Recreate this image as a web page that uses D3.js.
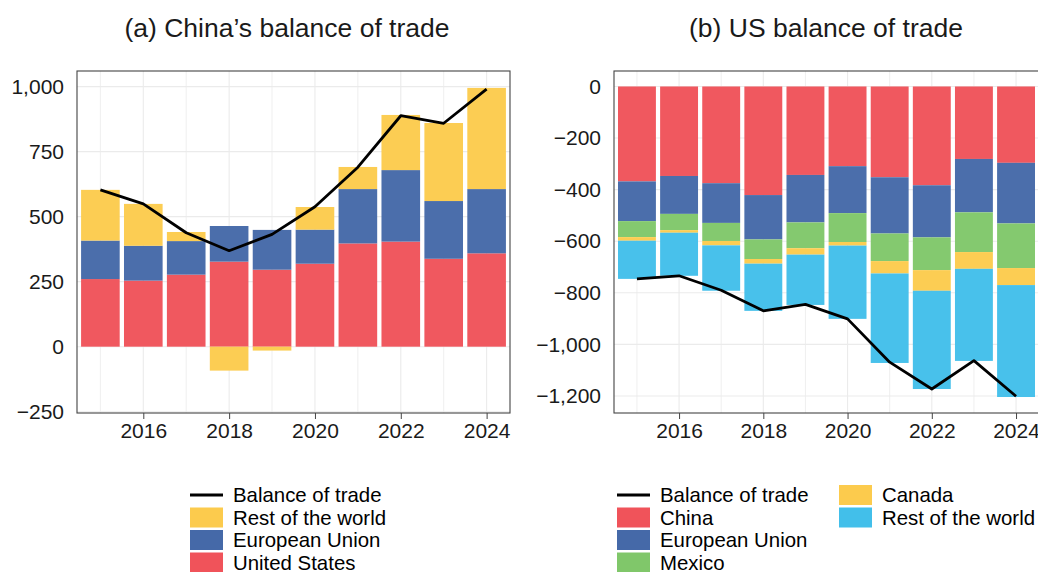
<!DOCTYPE html>
<html lang="en-US">
<head>
    <title>Balance of trade</title>
    <meta charset="utf-8">
    <script src="https://cdn.jsdelivr.net/npm/d3@7"></script>
    <style>
        body { margin: 0; background: #fff; }
        svg { display: block; font-family: 'Liberation Sans', Arial, sans-serif; }
    </style>
</head>
<body>
    <svg></svg>
</body>
<script>

    const years = [2015, 2016, 2017, 2018, 2019, 2020, 2021, 2022, 2023, 2024];

    // (a) China, billions
    const china_us      = [260, 254, 277, 327, 296, 319, 397, 404, 338, 359];
    const china_eu      = [148, 134, 129, 137, 153, 131, 209, 275, 222, 247];
    const china_row     = [195, 161, 35, -92, -15, 87, 85, 212, 300, 389];
    const china_balance = [603, 549, 438, 369, 432, 538, 690, 888, 859, 990];

    // (b) US, billions
    const us_china   = [-368, -347, -375, -421, -343, -309, -352, -383, -281, -296];
    const us_eu      = [-154, -147, -154, -172, -184, -182, -218, -202, -207, -235];
    const us_mexico  = [-62, -63, -70, -76, -100, -112, -107, -127, -154, -173];
    const us_canada  = [-14, -10, -17, -18, -25, -14, -48, -80, -65, -66];
    const us_row     = [-148, -167, -176, -183, -195, -284, -347, -381, -357, -434];
    const us_balance = [-746, -734, -790, -870, -845, -901, -1069, -1173, -1063, -1201];

    const x_ticks = [2016, 2018, 2020, 2022, 2024];
    const china_y_ticks = [-250, 0, 250, 500, 750, 1000];
    const us_y_ticks = [-1200, -1000, -800, -600, -400, -200, 0];

    const colors = {
        red: '#f0535a',
        blue: '#4569a8',
        green: '#80c76a',
        yellow: '#fccb4d',
        cyan: '#42bfea'
    };

    let svg = d3.select('svg')
        .attr('width', 1038)
        .attr('height', 572);

    const fmt = d3.format(',');

    drawPanel({
        title: '(a) China\u2019s balance of trade',
        title_x: 287,
        left: 77, right: 510, top: 71, bottom: 413,
        y_domain: [-255, 1060],
        y_ticks: china_y_ticks,
        series: [
            { key: 'United States', values: china_us, color: colors.red },
            { key: 'European Union', values: china_eu, color: colors.blue },
            { key: 'Rest of the world', values: china_row, color: colors.yellow }
        ],
        balance: china_balance
    });

    drawPanel({
        title: '(b) US balance of trade',
        title_x: 826,
        left: 614, right: 1039, top: 71, bottom: 413,
        y_domain: [-1266, 60],
        y_ticks: us_y_ticks,
        series: [
            { key: 'China', values: us_china, color: colors.red },
            { key: 'European Union', values: us_eu, color: colors.blue },
            { key: 'Mexico', values: us_mexico, color: colors.green },
            { key: 'Canada', values: us_canada, color: colors.yellow },
            { key: 'Rest of the world', values: us_row, color: colors.cyan }
        ],
        balance: us_balance
    });

    // Legends (ggplot order: line first, then fills reversed for panel a)
    drawLegend(190, 495, [
        { label: 'Balance of trade', line: true },
        { label: 'Rest of the world', color: colors.yellow },
        { label: 'European Union', color: colors.blue },
        { label: 'United States', color: colors.red }
    ]);

    drawLegend(617, 495, [
        { label: 'Balance of trade', line: true },
        { label: 'China', color: colors.red },
        { label: 'European Union', color: colors.blue },
        { label: 'Mexico', color: colors.green }
    ]);

    drawLegend(839, 495, [
        { label: 'Canada', color: colors.yellow },
        { label: 'Rest of the world', color: colors.cyan }
    ]);

    function drawPanel(p) {

        let xScale = d3.scaleLinear()
            .domain([2014.455, 2024.545])
            .range([p.left, p.right]);

        let yScale = d3.scaleLinear()
            .domain(p.y_domain)
            .range([p.bottom, p.top]);

        let g = svg.append('g');

        // Grid
        g.append('g')
            .selectAll('line')
            .data(p.y_ticks)
            .enter()
            .append('line')
            .attr('x1', p.left)
            .attr('x2', p.right)
            .attr('y1', d => yScale(d))
            .attr('y2', d => yScale(d))
            .style('stroke', '#ebebeb')
            .style('stroke-width', 1.1);

        g.append('g')
            .selectAll('line')
            .data(years)
            .enter()
            .append('line')
            .attr('x1', d => xScale(d))
            .attr('x2', d => xScale(d))
            .attr('y1', p.top)
            .attr('y2', p.bottom)
            .style('stroke', '#ebebeb')
            .style('stroke-width', d => d % 2 == 0 ? 1.1 : 0.8);

        // Stacked bars, positives up and negatives down from zero
        let table = years.map((y, i) => {
            let row = { year: y };
            p.series.forEach(s => row[s.key] = s.values[i]);
            return row;
        });

        let stacked = d3.stack()
            .keys(p.series.map(s => s.key))
            .offset(d3.stackOffsetDiverging)(table);

        stacked.forEach((layer, li) => {
            g.append('g')
                .selectAll('rect')
                .data(layer)
                .enter()
                .append('rect')
                .attr('x', d => xScale(d.data.year - 0.45))
                .attr('width', d => xScale(d.data.year + 0.45) - xScale(d.data.year - 0.45))
                .attr('y', d => yScale(Math.max(d[0], d[1])))
                .attr('height', d => Math.abs(yScale(d[0]) - yScale(d[1])))
                .style('fill', p.series[li].color)
                .style('fill-opacity', 0.97);
        });

        // Balance line
        let line = d3.line()
            .x((d, i) => xScale(years[i]))
            .y(d => yScale(d));

        g.append('path')
            .datum(p.balance)
            .attr('d', line)
            .style('fill', 'none')
            .style('stroke', '#000')
            .style('stroke-width', 2.8)
            .style('stroke-linejoin', 'round');

        // Panel border
        g.append('rect')
            .attr('x', p.left)
            .attr('y', p.top)
            .attr('width', p.right - p.left)
            .attr('height', p.bottom - p.top)
            .style('fill', 'none')
            .style('stroke', '#444')
            .style('stroke-width', 1.1);

        // Axes
        let x_axis = g.append('g')
            .attr('transform', `translate(0,${p.bottom})`)
            .call(d3.axisBottom(xScale).tickValues(x_ticks).tickFormat(d3.format('d')).tickSize(6).tickPadding(4));
        x_axis.select('.domain').remove();
        x_axis.selectAll('line').style('stroke', '#444');
        x_axis.selectAll('text')
            .style('font-size', '21px')
            .style('font-family', "'Liberation Sans', Arial, sans-serif")
            .style('fill', '#1a1a1a');

        let y_axis = g.append('g')
            .attr('transform', `translate(${p.left},0)`)
            .call(d3.axisLeft(yScale).tickValues(p.y_ticks).tickFormat(fmt).tickSize(0).tickPadding(13));
        y_axis.select('.domain').remove();
        y_axis.selectAll('text')
            .style('font-size', '21px')
            .style('font-family', "'Liberation Sans', Arial, sans-serif")
            .style('fill', '#1a1a1a');

        // Title
        svg.append('text')
            .attr('x', p.title_x)
            .attr('y', 37)
            .attr('text-anchor', 'middle')
            .style('font-size', '26.5px')
            .style('fill', '#1a1a1a')
            .text(p.title);
    }

    function drawLegend(x, y, items) {
        let step = 22.5;
        let g = svg.append('g');
        items.forEach((it, i) => {
            let cy = y + i * step;
            if (it.line) {
                g.append('line')
                    .attr('x1', x)
                    .attr('x2', x + 33)
                    .attr('y1', cy)
                    .attr('y2', cy)
                    .style('stroke', '#000')
                    .style('stroke-width', 3);
            } else {
                g.append('rect')
                    .attr('x', x)
                    .attr('y', cy - 10)
                    .attr('width', 33)
                    .attr('height', 20)
                    .style('fill', it.color);
            }
            g.append('text')
                .attr('x', x + 43)
                .attr('y', cy + 7.3)
                .style('font-size', '20.4px')
                .style('fill', '#000')
                .text(it.label);
        });
    }

</script>
</html>
